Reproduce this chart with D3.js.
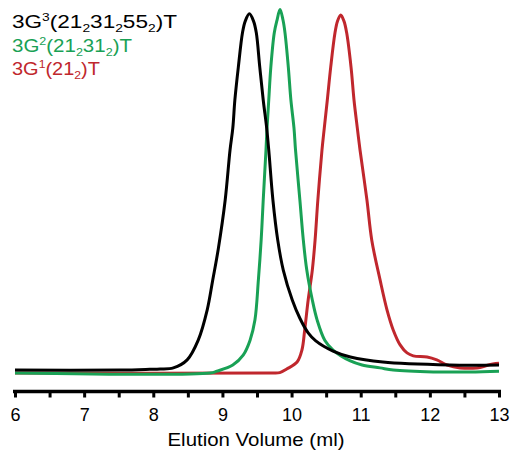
<!doctype html>
<html lang="en">
<head>
  <meta charset="utf-8">
  <title>elution</title>
  <style>
    body { margin: 0; background: #fff; }
    svg text { font-family: "Liberation Sans", Arial, sans-serif; }
    .axis path, .axis line { stroke: #000; }
  </style>
</head>
<body>
  <div class="chart"></div>
  <script src="https://d3js.org/d3.v7.min.js"></script>
  <script>
    'use strict';

    // elution volume (ml) and detector signal (arbitrary units, 0-100)
    const blackVol = [6.00, 7.52, 7.95, 8.10, 8.29, 8.49, 8.65, 8.78, 8.86, 8.94, 9.04, 9.11, 9.15, 9.18, 9.23, 9.29, 9.33, 9.39,
      9.45, 9.49, 9.54, 9.59, 9.64, 9.67, 9.73, 9.80, 9.88, 10.01, 10.12, 10.24, 10.35, 10.60, 10.85, 11.32, 12.29, 13.00];
    const blackSig = [0.8, 0.8, 1.0, 1.1, 1.4, 3.6, 9.0, 17.3, 25.5, 34.0, 47.4, 61.1, 67.1, 74.8, 83.8, 93.2, 96.4, 98.4,
      96.4, 93.2, 83.8, 74.8, 67.1, 61.1, 47.4, 36.4, 28.2, 20.0, 15.0, 11.0, 8.8, 6.0, 4.4, 3.0, 2.2, 2.2];

    const greenVol = [6.00, 8.82, 8.92, 9.15, 9.30, 9.40, 9.47, 9.52, 9.56, 9.59, 9.63, 9.645, 9.67, 9.70, 9.75, 9.79, 9.833,
      9.876, 9.905, 9.953, 9.99, 10.035, 10.057, 10.12, 10.17, 10.22, 10.30, 10.37, 10.48, 10.60, 10.85, 11.02, 11.28, 11.47, 12.05, 12.58, 13.00];
    const greenSig = [0, 0, 0.5, 2.2, 4.9, 9.0, 14.5, 25.5, 36.4, 47.4, 61.1, 67.1, 74.8, 83.8, 93.2, 96.7, 99.6,
      96.7, 93.2, 83.8, 74.8, 67.1, 61.1, 47.4, 36.4, 28.2, 20.0, 14.5, 9.0, 6.3, 3.3, 2.2, 1.4, 0.8, 0.3, 0.3, 0.5];

    const redVol = [6.00, 9.69, 9.83, 9.93, 10.08, 10.15, 10.19, 10.24, 10.30, 10.34, 10.38, 10.44, 10.473, 10.517, 10.566, 10.628, 10.664, 10.711,
      10.758, 10.797, 10.86, 10.903, 10.951, 10.99, 11.09, 11.16, 11.28, 11.38, 11.47, 11.57, 11.67, 11.76, 11.96, 12.10, 12.25, 12.44, 12.68, 12.91, 13.00];
    const redSig = [0, 0, 0.1, 1.1, 3.0, 6.3, 11.8, 20.0, 28.2, 36.4, 47.4, 61.1, 67.1, 74.8, 83.8, 93.2, 96.4, 98.1,
      96.4, 93.2, 83.8, 74.8, 67.1, 61.1, 47.4, 36.4, 25.5, 17.3, 11.8, 7.7, 5.5, 4.7, 4.4, 3.6, 2.2, 1.4, 1.4, 2.5, 2.7];

    const xTicks = [6, 6.5, 7, 7.5, 8, 8.5, 9, 9.5, 10, 10.5, 11, 11.5, 12, 12.5, 13];

    // legend labels: [text, kind] pieces
    const legendNames = [
      [['3G', ''], ['3', 'sup'], ['(21', ''], ['2', 'sub'], ['31', ''], ['2', 'sub'], ['55', ''], ['2', 'sub'], [')T', '']],
      [['3G', ''], ['2', 'sup'], ['(21', ''], ['2', 'sub'], ['31', ''], ['2', 'sub'], [')T', '']],
      [['3G', ''], ['1', 'sup'], ['(21', ''], ['2', 'sub'], [')T', '']]
    ];
    const legendWidths = [165, 120, 88];
    const colors = ['#000000', '#19a155', '#c0272d'];

    const series = [
      {vol: blackVol, sig: blackSig},
      {vol: greenVol, sig: greenSig},
      {vol: redVol, sig: redSig}
    ];

    const W = 511, H = 451;

    const x = d3.scaleLinear().domain([6, 13]).range([15, 499]);
    const y = d3.scaleLinear().domain([0, 100]).range([373, 8]);

    const svg = d3.select('.chart').append('svg')
      .attr('width', W)
      .attr('height', H);

    const line = d3.line()
      .x(d => x(d[0]))
      .y(d => y(d[1]))
      .curve(d3.curveCatmullRom.alpha(0.5));

    // black drawn last so it sits on top like the original
    [2, 1, 0].forEach(i => {
      const s = series[i];
      const pts = s.vol.map((v, j) => [v, s.sig[j]]);
      svg.append('path')
        .datum(pts)
        .attr('fill', 'none')
        .attr('stroke', colors[i])
        .attr('stroke-width', 3)
        .attr('stroke-linejoin', 'round')
        .attr('d', line);
    });

    // x axis
    const axis = svg.append('g')
      .attr('class', 'axis')
      .attr('transform', 'translate(0,391.5)')
      .call(d3.axisBottom(x)
        .tickValues(xTicks)
        .tickSizeOuter(0)
        .tickSize(6)
        .tickFormat(d => Number.isInteger(d) ? d : ''));

    axis.select('.domain')
      .attr('stroke-width', 3.5)
      .attr('d', `M${x(6) - 2},0H${x(13) + 2}`);
    axis.selectAll('.tick line')
      .attr('stroke-width', 3);
    axis.selectAll('.tick text')
      .attr('y', 29.5)
      .attr('dy', null)
      .attr('fill', '#000')
      .attr('font-size', 18)
      .attr('font-family', '"Liberation Sans", Arial, sans-serif');

    svg.append('text')
      .attr('x', 256)
      .attr('y', 446)
      .attr('text-anchor', 'middle')
      .attr('font-size', 18.5)
      .attr('textLength', 177)
      .attr('lengthAdjust', 'spacingAndGlyphs')
      .text('Elution Volume (ml)');

    // legend
    legendNames.forEach((parts, i) => {
      const t = svg.append('text')
        .attr('x', 12)
        .attr('y', 28 + i * 23.5)
        .attr('fill', colors[i])
        .attr('font-size', 18)
        .attr('textLength', legendWidths[i])
        .attr('lengthAdjust', 'spacingAndGlyphs');
      let shift = 0;
      parts.forEach(p => {
        const want = p[1] === 'sup' ? -7 : p[1] === 'sub' ? 4 : 0;
        t.append('tspan')
          .attr('dy', want - shift)
          .attr('font-size', p[1] ? 11 : 18)
          .text(p[0]);
        shift = want;
      });
    });
  </script>
</body>
</html>
